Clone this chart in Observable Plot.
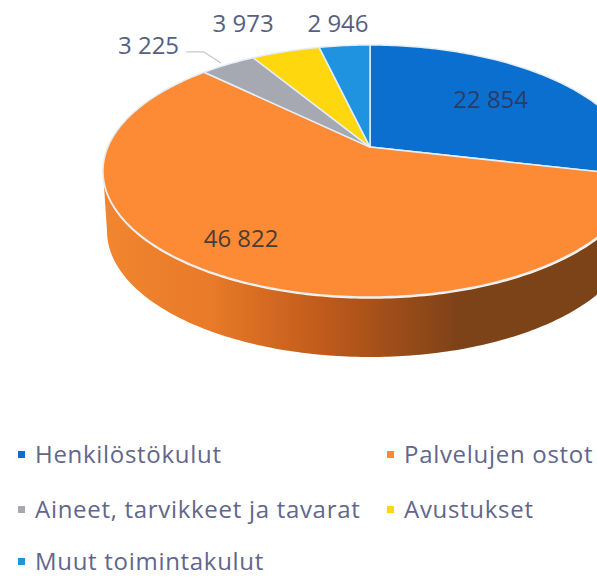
<!DOCTYPE html>
<html lang="fi">
<head>
<meta charset="utf-8">
<script src="https://cdn.jsdelivr.net/npm/d3@7"></script>
<script src="https://cdn.jsdelivr.net/npm/@observablehq/plot@0.6"></script>
<style>
html,body{margin:0;padding:0;background:#fff;overflow:hidden}
#chart{position:relative;width:597px;height:578px;overflow:hidden}
#chart svg{display:block}
.legend{position:absolute;left:0;top:0;width:597px;height:578px;font-family:"Open Sans",sans-serif;font-size:24px;letter-spacing:.7px;color:#62668c;line-height:28px}
.item{position:absolute;white-space:nowrap}
.item i{position:absolute;left:-17px;top:11px;width:7px;height:7px;display:block}
</style>
</head>
<body>
<div id="chart"></div>
<script>
const categories = ["Henkilöstökulut", "Palvelujen ostot", "Aineet, tarvikkeet ja tavarat", "Avustukset", "Muut toimintakulut"];
const values = [22854, 46822, 3225, 3973, 2946];
const valueLabels = ["22 854", "46 822", "3 225", "3 973", "2 946"];
const colors = ["#0a6fcf", "#fd8b35", "#a6a9b2", "#ffd70f", "#1f92e0"];

// Layout of the tilted disc (not data)
const W = 597, H = 578;
const cx = 370, cy = 171, rx = 267, ry = 126;
const tilt = 0.19, depth = 60 / ry, baseShrink = 0.985;
const labelRadius = [0.64, 0.79, 1, 1, 1];
const labelColor = ["#2b3c66", "#4a3d34", "#566080", "#566080", "#566080"];
const labelShift = [[-2, -2], [-15, -5], [-80, -18], [-43, -28], [-7, -22]];

const s = Math.sqrt(1 - tilt * tilt);
const project = (a, r = 1) => {
  const u = r * Math.sin(a), v = r * Math.cos(a), d = 1 + tilt * v;
  return [u * s / d, (v + tilt) / d];
};
const arcs = d3.pie().sort(null)(values);
const fan = arcs.flatMap((p, i) => {
  const n = Math.max(8, Math.ceil((p.endAngle - p.startAngle) * 60));
  return d3.range(n + 1).map(k => {
    const [x, y] = project(p.startAngle + (p.endAngle - p.startAngle) * k / n);
    return {slice: i, x, y, x0: 0, y0: tilt, color: colors[i]};
  });
});
const wall = d3.range(0, 181).map(k => {
  const a = (90 + k) * Math.PI / 180;
  return {x1: Math.sin(a), y1: Math.cos(a), x2: Math.sin(a) * baseShrink, y2: Math.cos(a) - depth};
});
const rim = d3.range(0, 181).map(k => {
  const a = (85 + k * 190 / 180) * Math.PI / 180;
  return {x: Math.sin(a), y: Math.cos(a)};
});
const labels = arcs.map((p, i) => {
  const [x, y] = project((p.startAngle + p.endAngle) / 2, labelRadius[i]);
  return {x, y, text: valueLabels[i], color: labelColor[i], dx: labelShift[i][0], dy: labelShift[i][1]};
});
// leader of the grey slice, relative to its rim point
const g = project((arcs[2].startAngle + arcs[2].endAngle) / 2);
const leader = [
  {x: g[0] - 42 / rx, y: g[1] + 13 / ry},
  {x: g[0] - 25 / rx, y: g[1] + 13 / ry},
  {x: g[0] - 8 / rx, y: g[1] + 2 / ry}
];

const plot = Plot.plot({
  width: W, height: H,
  margin: 0,
  x: {domain: [-cx / rx, (W - cx) / rx], range: [0, W], axis: null},
  y: {domain: [cy / ry, (cy - H) / ry], range: [0, H], axis: null},
  style: {background: "transparent"},
  marks: [
    Plot.area(wall, {x1: "x1", y1: "y1", x2: "x2", y2: "y2", fill: "url(#wall)"}),
    Plot.line(rim, {x: "x", y: "y", stroke: "#fff3e6", strokeWidth: 2.5}),
    Plot.area(fan, {x1: "x0", y1: "y0", x2: "x", y2: "y", z: "slice", fill: "color",
                    stroke: "#e4eef8", strokeWidth: 1.5}),
    Plot.line(leader, {x: "x", y: "y", stroke: "#c6c8cc", strokeWidth: 1.2}),
    ...labels.map(d => Plot.text([d], {x: "x", y: "y", text: "text", fill: d.color, dx: d.dx, dy: d.dy,
      fontSize: 24, fontFamily: "Open Sans, sans-serif"}))
  ]
});
plot.insertAdjacentHTML("afterbegin",
  `<defs><linearGradient id="wall" gradientUnits="userSpaceOnUse" x1="103" x2="597" y1="0" y2="0">
    <stop offset="0" stop-color="#f2852f"/><stop offset="0.22" stop-color="#e87a28"/>
    <stop offset="0.45" stop-color="#bf5a1b"/><stop offset="0.72" stop-color="#7d4218"/>
    <stop offset="1" stop-color="#7c4319"/></linearGradient></defs>`);
const chart = document.getElementById("chart");
chart.append(plot);

// Legend
const pos = [[35, 440], [404, 440], [35, 495], [404, 495], [35, 547]];
const legend = d3.select(chart).append("div").attr("class", "legend");
categories.forEach((c, i) => {
  const it = legend.append("div").attr("class", "item")
    .style("left", pos[i][0] + "px").style("top", pos[i][1] + "px");
  it.append("i").style("background", colors[i]);
  it.append("span").text(c);
});
</script>
</body>
</html>
